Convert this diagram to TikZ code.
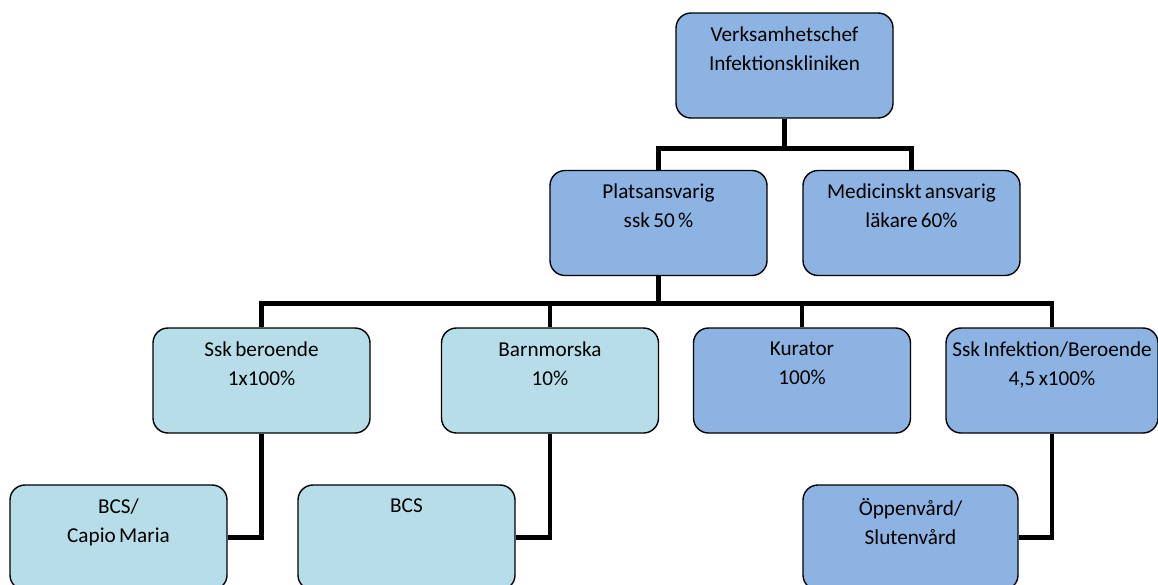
\documentclass[tikz,border=0pt]{standalone}
\usepackage{fontspec}
\setmainfont{Carlito}
\definecolor{bluebox}{HTML}{8DB3E2}
\definecolor{tealbox}{HTML}{B7DEE8}
\tikzset{
  orgbox/.style={draw=black, line width=1.4pt, rounded corners=15pt, inner sep=0pt,
    minimum width=217pt, minimum height=105pt, text width=217pt, align=center},
  bluefill/.style={orgbox, fill=bluebox},
  tealfill/.style={orgbox, fill=tealbox},
  conn/.style={line width=4.8pt, draw=black}
}
\newcommand{\lines}[2][217pt]{\parbox[c][105pt][t]{#1}{\centering\fontsize{21.2}{29}\selectfont\vspace*{13.5pt}#2\par}}
\begin{document}
\begin{tikzpicture}[x=1pt,y=-1pt]
\useasboundingbox (0,0) rectangle (1158,584);
\node[bluefill] (top) at (784.5,65.5) {\lines{Verksamhetschef\\Infektionskliniken}};
\node[bluefill] (plats) at (658.5,223) {\lines{Platsansvarig\\ssk 50 \%}};
\node[bluefill] (med) at (911.5,223) {\lines{Medicinskt ansvarig\\läkare 60\%}};
\node[tealfill] (ssk) at (261.5,380.5) {\lines{Ssk beroende\\1x100\%}};
\node[tealfill] (barn) at (550,380.5) {\lines{Barnmorska\\10\%}};
\node[bluefill] (kur) at (802,380.5) {\lines{Kurator\\100\%}};
\node[bluefill, minimum width=212pt, text width=212pt] (inf) at (1052,380.5) {\lines[212pt]{Ssk Infektion/Beroende\\4,5 x100\%}};
\node[tealfill] (capio) at (118.5,537.5) {\lines{BCS/\\Capio Maria}};
\node[tealfill] (bcs) at (406.5,537.5) {\lines{BCS}};
\node[bluefill, minimum width=215pt, text width=215pt] (opp) at (910.5,537.5) {\lines[215pt]{Öppenvård/\\Slutenvård}};
\draw[conn] (top.south) -- ++(0,30) -| (plats.north);
\draw[conn] (top.south) -- ++(0,30) -| (med.north);
\draw[conn] (plats.south) -- ++(0,27) -| (ssk.north);
\draw[conn] (plats.south) -- ++(0,27) -| (barn.north);
\draw[conn] (plats.south) -- ++(0,27) -| (kur.north);
\draw[conn] (plats.south) -- ++(0,27) -| (inf.north);
\draw[conn] (ssk.south) |- (capio.east);
\draw[conn] (barn.south) |- (bcs.east);
\draw[conn] (inf.south) |- (opp.east);
\end{tikzpicture}
\end{document}
